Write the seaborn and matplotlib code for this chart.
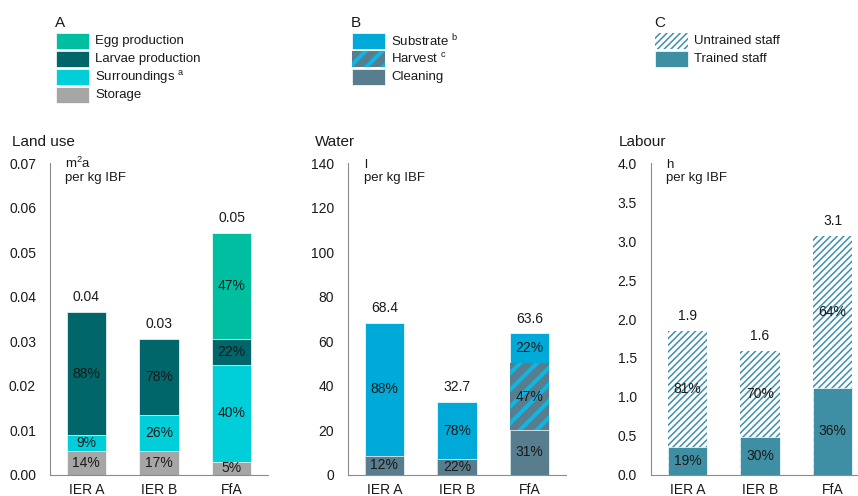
import matplotlib
matplotlib.use("Agg")
import matplotlib.pyplot as plt
import seaborn as sns
import numpy as np
from matplotlib.patches import Rectangle

sns.set_style("white")
plt.rcParams['font.family'] = ['Liberation Sans', 'DejaVu Sans']
plt.rcParams['mathtext.fontset'] = 'custom'
plt.rcParams['mathtext.rm'] = 'Liberation Sans'
plt.rcParams['mathtext.it'] = 'Liberation Sans'

# ---------------- data ----------------
categories = ["IER A", "IER B", "FfA"]

# Land use (m2a per kg IBF), layers bottom -> top
land_storage = [0.0053, 0.0053, 0.0029]
land_surroundings = [0.0036, 0.0081, 0.0218]
land_larvae = [0.0277, 0.0171, 0.0058]
land_egg = [0.0, 0.0, 0.0239]
land_storage_lbl = ["14%", "17%", "5%"]
land_surroundings_lbl = ["9%", "26%", "40%"]
land_larvae_lbl = ["88%", "78%", "22%"]
land_egg_lbl = ["", "", "47%"]
land_total_lbl = ["0.04", "0.03", "0.05"]

# Water (l per kg IBF)
water_cleaning = [8.5, 6.9, 20.1]
water_harvest = [0.0, 0.0, 30.0]
water_substrate = [59.9, 25.8, 13.5]
water_cleaning_lbl = ["12%", "22%", "31%"]
water_harvest_lbl = ["", "", "47%"]
water_substrate_lbl = ["88%", "78%", "22%"]
water_total_lbl = ["68.4", "32.7", "63.6"]

# Labour (h per kg IBF)
labour_trained = [0.35, 0.48, 1.12]
labour_untrained = [1.50, 1.11, 1.95]
labour_trained_lbl = ["19%", "30%", "36%"]
labour_untrained_lbl = ["81%", "70%", "64%"]
labour_total_lbl = ["1.9", "1.6", "3.1"]

# ---------------- styles ----------------
C_EGG = "#00BFA0"
C_LARVAE = "#00666A"
C_SURR = "#00CFDA"
C_STORAGE = "#A6A6A6"
C_SUBSTRATE = "#00AAD8"
C_CLEAN = "#587D8E"
C_HARV_HATCH = "#12B4E0"
C_TRAINED = "#3E8FA3"
C_UNTRAINED = "#3E8FAA"
AXCOL = "#8C8C8C"

W, H = 858, 496
fig = plt.figure(figsize=(W / 100, H / 100), dpi=100)

def fx(px):
    return px / W

def fy(py):
    return 1 - py / H

BAR_W = 0.54

def panel(left_px, title, title_x, unit1, unit2, unit_x, ymax, step, fmt, layers, total_lbl):
    ax = fig.add_axes([fx(left_px), fy(474.7), fx(218), 311.3 / H])
    vals = [np.array(l["values"], dtype=float) for l in layers]
    cum = np.cumsum(vals, axis=0)
    # draw from top layer down so lower layers overdraw
    for idx in range(len(layers) - 1, -1, -1):
        l = layers[idx]
        kw = dict(x=categories, y=list(cum[idx]), ax=ax, width=BAR_W,
                  saturation=1, color=l["color"], order=categories)
        if l.get("hatch"):
            kw.update(hatch=l["hatch"], edgecolor=l["hatchcolor"], linewidth=0)
        else:
            kw.update(edgecolor="white", linewidth=0.5)
        sns.barplot(**kw)
        if l.get("hatch"):
            for p in ax.containers[-1]:
                if hasattr(p, "set_hatch_linewidth"):
                    p.set_hatch_linewidth(l.get("hlw", 1.0))
    # segment labels
    for idx, l in enumerate(layers):
        bottoms = cum[idx] - vals[idx]
        for i, lab in enumerate(l["labels"]):
            if lab:
                ax.text(i, bottoms[i] + vals[idx][i] / 2, lab, ha="center",
                        va="center", fontsize=10, color="#1A1A1A")
    totals = cum[-1]
    for i, lab in enumerate(total_lbl):
        ax.annotate(lab, (i, totals[i]), xytext=(0, 10.6), textcoords="offset points",
                    ha="center", va="center", fontsize=10, color="#1A1A1A")
    ax.set_xlim(-0.5, 2.5)
    ax.set_ylim(0, ymax)
    ticks = np.arange(0, ymax + step / 2, step)
    ax.set_yticks(ticks)
    ax.set_yticklabels([fmt.format(t) for t in ticks], fontsize=10, color="#1A1A1A")
    ax.set_xticks([0, 1, 2])
    ax.set_xticklabels(categories, fontsize=10, color="#1A1A1A")
    ax.set_xticks([-0.5, 0.5, 1.5, 2.5], minor=True)
    ax.tick_params(axis="x", which="major", length=0, pad=6)
    ax.tick_params(axis="x", which="minor", length=4, color=AXCOL, width=0.8, direction="out")
    ax.tick_params(axis="y", length=3.5, color=AXCOL, width=0.8, direction="in", pad=10)
    ax.set_xlabel("")
    ax.set_ylabel("")
    for s in ["top", "right"]:
        ax.spines[s].set_visible(False)
    for s in ["left", "bottom"]:
        ax.spines[s].set_color(AXCOL)
        ax.spines[s].set_linewidth(0.8)
    ax.set_facecolor("none")
    fig.text(fx(title_x), fy(142), title, fontsize=11, va="center", ha="left", color="#1A1A1A")
    fig.text(fx(unit_x), fy(168), unit1, fontsize=9.5, va="baseline", ha="left", color="#1A1A1A")
    fig.text(fx(unit_x), fy(181), unit2, fontsize=9.5, va="baseline", ha="left", color="#1A1A1A")
    return ax

panel(50, "Land use", 12, r"m$^{2}$a", "per kg IBF", 65, 0.07, 0.01, "{:.2f}",
      [dict(values=land_storage, labels=land_storage_lbl, color=C_STORAGE),
       dict(values=land_surroundings, labels=land_surroundings_lbl, color=C_SURR),
       dict(values=land_larvae, labels=land_larvae_lbl, color=C_LARVAE),
       dict(values=land_egg, labels=land_egg_lbl, color=C_EGG)],
      land_total_lbl)

panel(348, "Water", 315, "l", "per kg IBF", 364, 140, 20, "{:.0f}",
      [dict(values=water_cleaning, labels=water_cleaning_lbl, color=C_CLEAN),
       dict(values=water_harvest, labels=water_harvest_lbl, color=C_CLEAN,
            hatch="//", hatchcolor=C_HARV_HATCH, hlw=3.0),
       dict(values=water_substrate, labels=water_substrate_lbl, color=C_SUBSTRATE)],
      water_total_lbl)

panel(651, "Labour", 619, "h", "per kg IBF", 666, 4.0, 0.5, "{:.1f}",
      [dict(values=labour_trained, labels=labour_trained_lbl, color=C_TRAINED),
       dict(values=labour_untrained, labels=labour_untrained_lbl, color="white",
            hatch="/////", hatchcolor=C_UNTRAINED, hlw=1.1)],
      labour_total_lbl)

# ---------------- legends ----------------
def legend_block(x_px, letter, items):
    fig.text(fx(x_px), fy(23), letter, fontsize=11, va="center", ha="left", color="#1A1A1A")
    for k, (name, fc, hatch, hc) in enumerate(items):
        top = 33.3 + 18 * k
        r = Rectangle((fx(x_px + 1), fy(top + 16)), fx(33), 16 / H, transform=fig.transFigure,
                      facecolor=fc, edgecolor=(hc if hatch else "white"),
                      linewidth=(0 if hatch else 0.5), hatch=hatch)
        if hatch and hasattr(r, "set_hatch_linewidth"):
            r.set_hatch_linewidth(3.0 if fc != "white" else 1.1)
        fig.add_artist(r)
        fig.text(fx(x_px + 40), fy(top + 8), name, fontsize=9.5, va="center", ha="left",
                 color="#1A1A1A")

legend_block(55, "A", [("Egg production", C_EGG, None, None),
                       ("Larvae production", C_LARVAE, None, None),
                       (r"Surroundings $^{\mathrm{a}}$", C_SURR, None, None),
                       ("Storage", C_STORAGE, None, None)])
legend_block(351, "B", [(r"Substrate $^{\mathrm{b}}$", C_SUBSTRATE, None, None),
                        (r"Harvest $^{\mathrm{c}}$", C_CLEAN, "//", C_HARV_HATCH),
                        ("Cleaning", C_CLEAN, None, None)])
legend_block(654, "C", [("Untrained staff", "white", "/////", C_UNTRAINED),
                        ("Trained staff", C_TRAINED, None, None)])

fig.savefig("out.png", dpi=100)
